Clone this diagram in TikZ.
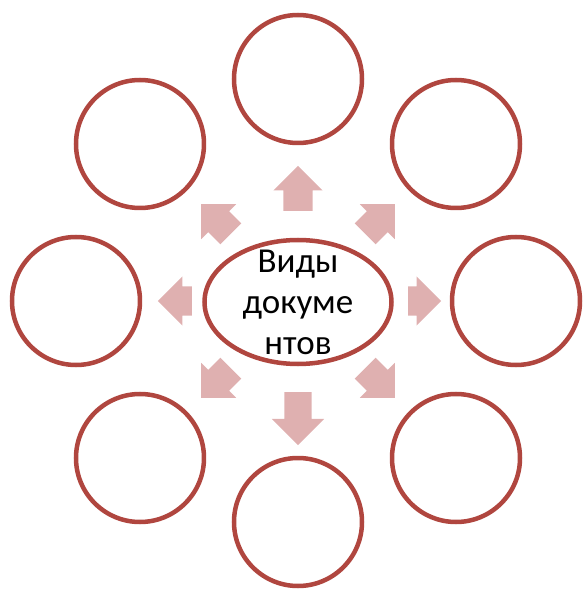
\documentclass[tikz,border=0pt]{standalone}
\usepackage{fontspec}
\setmainfont{Carlito}
\usepackage{xcolor}
\usepackage{tikz}
\usetikzlibrary{shapes.geometric,shapes.arrows}

\definecolor{ringred}{RGB}{176,70,63}
\definecolor{arrowpink}{RGB}{223,176,176}

\begin{document}
\begin{tikzpicture}[
    x=1pt, y=1pt,
    ring/.style={draw=ringred, circle, line width=4.5pt, minimum size=128pt, inner sep=0pt},
    hub/.style={draw=ringred, ellipse, line width=4.5pt, minimum width=187pt, minimum height=124pt, inner sep=0pt},
    blockarrow/.style={single arrow, fill=arrowpink, draw=none, anchor=tail, inner xsep=0pt, inner ysep=14.5pt, single arrow head extend=10pt, single arrow tip angle=90, minimum height=#1},
    blockarrow/.default=42pt
]
    \useasboundingbox (-298,-288) rectangle (284,301);

    % Centre
    \node[hub] (docs) at (0,-1) {};
    \node[align=center, font=\fontsize{35}{41}\selectfont, inner sep=0pt] (docstext) at (0,-1) {Виды\\докуме\\нтов};

    % Outer rings
    \node[ring] (ringN)  at (0,222) {};
    \node[ring] (ringNE) at (158,157) {};
    \node[ring] (ringE)  at (218,0) {};
    \node[ring] (ringSE) at (158,-157) {};
    \node[ring] (ringS)  at (0,-221) {};
    \node[ring] (ringSW) at (-158,-157) {};
    \node[ring] (ringW)  at (-222,0) {};
    \node[ring] (ringNW) at (-158,157) {};

    % Block arrows (placed by their tails)
    \node[blockarrow=45pt, rotate=90] (arrN) at (0,90) {};
    \node[blockarrow, rotate=45] (arrNE) at (67,67) {};
    \node[blockarrow=33pt, rotate=0] (arrE) at (110,0) {};
    \node[blockarrow, rotate=-45] (arrSE) at (67,-67) {};
    \node[blockarrow=53pt, inner ysep=13.5pt, single arrow head extend=12.5pt, rotate=-90] (arrS) at (0,-91) {};
    \node[blockarrow, rotate=-135] (arrSW) at (-67,-67) {};
    \node[blockarrow=34pt, rotate=180] (arrW) at (-106,0) {};
    \node[blockarrow, rotate=135] (arrNW) at (-67,67) {};
\end{tikzpicture}
\end{document}
